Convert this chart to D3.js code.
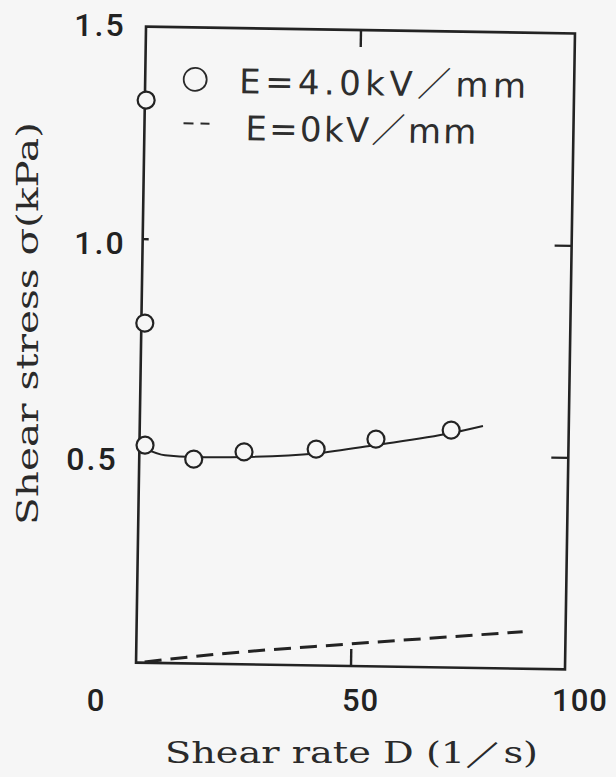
<!DOCTYPE html>
<html>
<head>
<meta charset="utf-8">
<script src="https://cdn.jsdelivr.net/npm/d3@7/dist/d3.min.js"></script>
<style>
  html, body { margin: 0; padding: 0; background: #f6f6f6; }
  svg { display: block; }
</style>
</head>
<body>
<svg id="chart" width="616" height="777"></svg>
<script>
// Measured points at E = 4.0 kV/mm
const shearRate4kV = [0.3, 0.8, 1.3, 12.7, 24.4, 41.2, 55.1, 72.6];
const stress4kV    = [1.327, 0.801, 0.513, 0.482, 0.501, 0.510, 0.536, 0.560];

// Smooth trend drawn through the 4.0 kV/mm points
const fitRate   = [1.3, 6, 12.7, 24.4, 41.2, 55.1, 72.6, 80];
const fitStress = [0.505, 0.490, 0.487, 0.489, 0.500, 0.522, 0.553, 0.571];

// E = 0 kV/mm (dashed)
const baseRate   = [2, 20, 50, 90];
const baseStress = [0.002, 0.024, 0.052, 0.087];

// Axis ticks
const xTicks = [0, 50, 100];
const yTicks = [0.5, 1.0, 1.5];
const xTickLabels = ["0", "50", "100"];
const yTickLabels = ["0.5", "1.0", "1.5"];

// Legend and axis titles
const legendLabels = ["E=4.0kV\uFF0Fmm", "E=0kV\uFF0Fmm"];
const xTitle = "Shear rate D (1\uFF0Fs)";
const yTitle = "Shear stress \u03C3(kPa)";

const ink = "#232323";
const svg = d3.select("#chart");
svg.append("rect").attr("width", 616).attr("height", 777).attr("fill", "#f6f6f6");

const box = { left: 141, right: 570, top: 30, bottom: 666 };
const x = d3.scaleLinear().domain([0, 100]).range([box.left, box.right]);
const y = d3.scaleLinear().domain([0, 1.5]).range([box.bottom, box.top]);

// plot frame is printed slightly skewed on the page
const plot = svg.append("g").attr("transform", "rotate(0.9, 355, 348)");

plot.append("rect")
  .attr("x", box.left).attr("y", box.top)
  .attr("width", box.right - box.left).attr("height", box.bottom - box.top)
  .attr("fill", "none").attr("stroke", ink).attr("stroke-width", 2.6);

// inward ticks on all four sides
const tickLen = 17;
const innerX = xTicks.filter(v => v > 0 && v < 100);
const innerY = yTicks.filter(v => v > 0 && v < 1.5);

plot.append("g").attr("transform", `translate(0,${box.bottom})`)
  .call(d3.axisBottom(x).tickValues(innerX).tickSize(-tickLen).tickFormat(""))
  .call(g => g.select(".domain").remove());
plot.append("g").attr("transform", `translate(0,${box.top})`)
  .call(d3.axisTop(x).tickValues(innerX).tickSize(-tickLen).tickFormat(""))
  .call(g => g.select(".domain").remove());
plot.append("g").attr("transform", `translate(${box.right},0)`)
  .call(d3.axisRight(y).tickValues(innerY).tickSize(-tickLen).tickFormat(""))
  .call(g => g.select(".domain").remove());
plot.append("g").attr("transform", `translate(${box.left},0)`)
  .call(d3.axisLeft(y).tickValues(innerY).tickSize(-6).tickFormat(""))
  .call(g => g.select(".domain").remove());
plot.selectAll(".tick line").attr("stroke", ink).attr("stroke-width", 2.4);

// E = 0 kV/mm dashed line
plot.append("path")
  .datum(baseRate.map((d, i) => [d, baseStress[i]]))
  .attr("fill", "none").attr("stroke", ink).attr("stroke-width", 3)
  .attr("stroke-dasharray", "17,9")
  .attr("d", d3.line().x(d => x(d[0])).y(d => y(d[1])).curve(d3.curveMonotoneX));

// E = 4.0 kV/mm trend curve
plot.append("path")
  .datum(fitRate.map((d, i) => [d, fitStress[i]]))
  .attr("fill", "none").attr("stroke", ink).attr("stroke-width", 2)
  .attr("d", d3.line().x(d => x(d[0])).y(d => y(d[1])).curve(d3.curveMonotoneX));

// E = 4.0 kV/mm markers
plot.selectAll("circle.pt")
  .data(shearRate4kV.map((d, i) => [d, stress4kV[i]]))
  .join("circle").attr("class", "pt")
  .attr("cx", d => x(d[0])).attr("cy", d => y(d[1])).attr("r", 8.5)
  .attr("fill", "#f6f6f6").attr("stroke", ink).attr("stroke-width", 2.2);

// Legend
const legendFont = "'DejaVu Sans', 'Noto Sans CJK JP', sans-serif";
plot.append("circle").attr("cx", 191).attr("cy", 82).attr("r", 11.5)
  .attr("fill", "none").attr("stroke", "#2a2a2a").attr("stroke-width", 1.8);
plot.append("line").attr("x1", 180).attr("x2", 206).attr("y1", 126).attr("y2", 126)
  .attr("stroke", "#2a2a2a").attr("stroke-width", 2).attr("stroke-dasharray", "10,7");
const legendRows = [
  { x0: 235, x1: 522, base: 95 },
  { x0: 242, x1: 473, base: 142 }
];
plot.selectAll("text.leg").data(legendLabels).join("text").attr("class", "leg")
  .attr("x", (d, i) => legendRows[i].x0).attr("y", (d, i) => legendRows[i].base)
  .attr("textLength", (d, i) => legendRows[i].x1 - legendRows[i].x0)
  .attr("lengthAdjust", "spacing")
  .attr("font-family", legendFont).attr("font-weight", 400)
  .attr("font-size", 34).attr("fill", "#2e2e2e")
  .text(d => d);

// Tick labels (kept upright)
const tickFont = "Roboto, 'Liberation Sans', Arial, sans-serif";
const yLabelShift = { "1.5": [0, -6], "1.0": [0, 0], "0.5": [-8, 4] };
svg.selectAll("text.ylab").data(yTicks).join("text").attr("class", "ylab")
  .attr("x", d => 100 + yLabelShift[yTickLabels[yTicks.indexOf(d)]][0])
  .attr("y", d => y(d) + 12 + yLabelShift[yTickLabels[yTicks.indexOf(d)]][1])
  .attr("text-anchor", "middle")
  .attr("font-family", tickFont).attr("font-weight", 500).attr("font-size", 32)
  .attr("letter-spacing", 2).attr("fill", "#222")
  .text((d, i) => yTickLabels[i]);

const xLabelShift = [-45, 5, 10];
svg.selectAll("text.xlab").data(xTicks).join("text").attr("class", "xlab")
  .attr("x", (d, i) => x(d) + xLabelShift[i])
  .attr("y", 711)
  .attr("text-anchor", "middle")
  .attr("font-family", tickFont).attr("font-weight", 500).attr("font-size", 31)
  .attr("letter-spacing", 1).attr("fill", "#222")
  .text((d, i) => xTickLabels[i]);

// Axis titles
const titleFont = "'DejaVu Serif', 'Liberation Serif', serif";
svg.append("text")
  .attr("x", 165).attr("y", 763)
  .attr("textLength", 373).attr("lengthAdjust", "spacingAndGlyphs")
  .attr("font-family", titleFont).attr("font-size", 30).attr("fill", "#2a2a2a")
  .text(xTitle);
svg.append("text")
  .attr("transform", "translate(38,525) rotate(-90)")
  .attr("textLength", 403).attr("lengthAdjust", "spacingAndGlyphs")
  .attr("font-family", titleFont).attr("font-size", 30).attr("fill", "#2a2a2a")
  .text(yTitle);
</script>
</body>
</html>
